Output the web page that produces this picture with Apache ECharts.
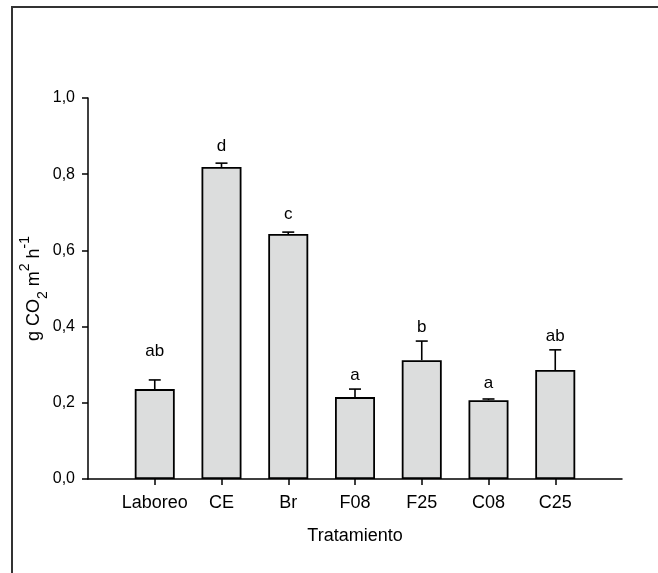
<!DOCTYPE html>
<html>
<head>
<meta charset="utf-8">
<script src="https://cdn.jsdelivr.net/npm/echarts@6/dist/echarts.min.js"></script>
<style>
  html, body { margin: 0; padding: 0; background: #fff; }
  #chart { width: 658px; height: 573px; }
</style>
</head>
<body>
<div id="chart"></div>
<script>
// CO2 flux per treatment
const categories = ['Laboreo', 'CE', 'Br', 'F08', 'F25', 'C08', 'C25'];
const means = [0.236, 0.819, 0.643, 0.215, 0.312, 0.207, 0.286];
const errors = [0.024, 0.010, 0.005, 0.021, 0.050, 0.003, 0.053];
const letters = ['ab', 'd', 'c', 'a', 'b', 'a', 'ab'];
const letterPos = [0.336, 0.874, 0.696, 0.273, 0.399, 0.252, 0.375];
const yTicks = [0, 0.2, 0.4, 0.6, 0.8, 1.0];

const font = "'Liberation Sans', Arial, sans-serif";

// one empty slot each side so the bars sit one band in from the axis ends
const xCats = [''].concat(categories, ['']);
const barData = ['-'].concat(means, ['-']);
const errData = means.map((m, i) => [i + 1, m, errors[i]]);
const letterData = letters.map((l, i) => [i + 1, letterPos[i], l]);

const chart = echarts.init(document.getElementById('chart'));
const option = {
    animation: false,
    graphic: [{
        type: 'rect',
        shape: { x: 12, y: 7, width: 700, height: 620 },
        style: { fill: 'none', stroke: '#333', lineWidth: 2 },
        silent: true
    }],
    grid: { left: 88, right: 36, top: 98, bottom: 94 },
    xAxis: {
        type: 'category',
        data: xCats,
        boundaryGap: false,
        name: 'Tratamiento',
        nameLocation: 'middle',
        nameGap: 48,
        nameMoveOverlap: false,
        nameTextStyle: { fontFamily: font, fontSize: 18, color: '#000' },
        axisLine: { lineStyle: { color: '#000', width: 1.5 } },
        axisTick: {
            length: 6,
            lineStyle: { color: '#000', width: 1.5 },
            interval: (i) => i > 0 && i < xCats.length - 1
        },
        axisLabel: {
            interval: 0,
            margin: 15,
            fontFamily: font,
            fontSize: 18,
            color: '#000'
        },
        splitLine: { show: false }
    },
    yAxis: {
        type: 'value',
        min: yTicks[0],
        max: yTicks[yTicks.length - 1],
        interval: 0.2,
        name: 'g CO{sub|2} m{sup|2} h{sup|-1}',
        nameLocation: 'middle',
        nameRotate: 90,
        nameGap: 38,
        nameMoveOverlap: false,
        nameTextStyle: {
            fontFamily: font, fontSize: 18, color: '#000', lineHeight: 32,
            rich: {
                sub: { fontFamily: font, fontSize: 14, color: '#000', verticalAlign: 'bottom', lineHeight: 14 },
                sup: { fontFamily: font, fontSize: 14, color: '#000', verticalAlign: 'top', lineHeight: 14 }
            }
        },
        axisLine: { show: true, lineStyle: { color: '#000', width: 1.5 } },
        axisTick: { show: true, length: 6, lineStyle: { color: '#000', width: 1.5 } },
        axisLabel: {
            margin: 13,
            fontFamily: font,
            fontSize: 16,
            color: '#000',
            formatter: (v) => v.toFixed(1).replace('.', ',')
        },
        splitLine: { show: false }
    },
    series: [
        {
            type: 'bar',
            data: barData,
            barWidth: 40,
            itemStyle: { color: '#dcdddd', borderColor: '#000', borderWidth: 1.8 }
        },
        {
            type: 'custom',
            data: errData,
            z: 3,
            renderItem: (params, api) => {
                const base = api.coord([api.value(0), api.value(1)]);
                const top = api.coord([api.value(0), api.value(1) + api.value(2)]);
                const style = { stroke: '#000', lineWidth: 1.6 };
                return {
                    type: 'group',
                    children: [
                        { type: 'line', shape: { x1: base[0], y1: base[1], x2: top[0], y2: top[1] }, style },
                        { type: 'line', shape: { x1: top[0] - 6, y1: top[1], x2: top[0] + 6, y2: top[1] }, style }
                    ]
                };
            }
        },
        {
            type: 'custom',
            data: letterData,
            z: 4,
            renderItem: (params, api) => {
                const p = api.coord([api.value(0), api.value(1)]);
                return {
                    type: 'text',
                    x: p[0],
                    y: p[1],
                    style: {
                        text: letters[params.dataIndex],
                        fontFamily: font,
                        fontSize: 17,
                        fill: '#000',
                        align: 'center',
                        verticalAlign: 'middle'
                    }
                };
            }
        }
    ]
};
chart.setOption(option);
</script>
</body>
</html>
